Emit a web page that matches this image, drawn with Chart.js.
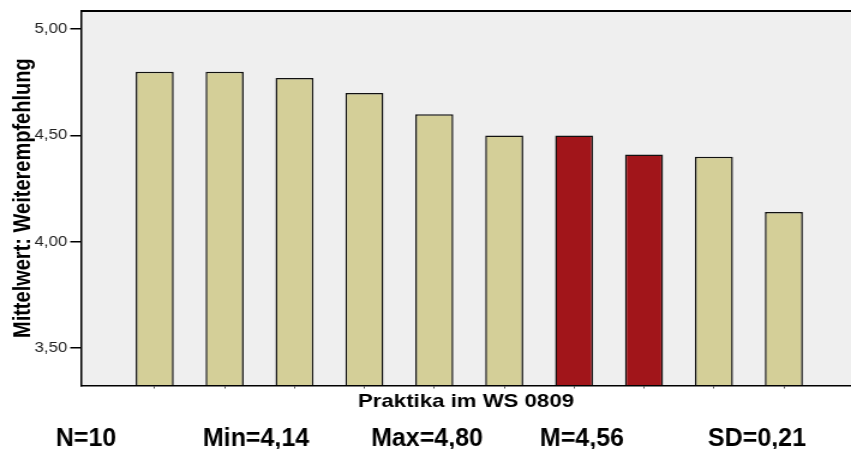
<!DOCTYPE html>
<html>
<head>
<meta charset="utf-8">
<script src="https://cdn.jsdelivr.net/npm/chart.js@4/dist/chart.umd.min.js"></script>
<style>
html, body { margin: 0; padding: 0; background: #fff; }
</style>
</head>
<body>
<!-- the original picture is horizontally stretched, so draw narrow and let css widen it -->
<canvas id="chart" width="709" height="449" style="width:851px;height:449px"></canvas>
<script>
const praktika = ['Praktikum 1', 'Praktikum 2', 'Praktikum 3', 'Praktikum 4', 'Praktikum 5',
                  'Praktikum 6', 'Praktikum 7', 'Praktikum 8', 'Praktikum 9', 'Praktikum 10'];
const weiterempfehlung = [4.80, 4.80, 4.77, 4.70, 4.60, 4.50, 4.50, 4.41, 4.40, 4.14];
const markiert = [6, 7];
const yTicks = [3.50, 4.00, 4.50, 5.00];
const statistik = ['N=10', 'Min=4,14', 'Max=4,80', 'M=4,56', 'SD=0,21'];

const STRETCH = 851 / 709;
const FONT = '"Liberation Sans", Arial, sans-serif';

const frame = {
    id: 'frame',
    beforeDraw(chart) {
        const {ctx, chartArea: a} = chart;
        ctx.save();
        ctx.fillStyle = '#efefef';
        ctx.fillRect(a.left, a.top, a.right - a.left, a.bottom - a.top);
        ctx.restore();
    },
    afterDraw(chart) {
        const {ctx, chartArea: a} = chart;
        ctx.save();
        ctx.strokeStyle = '#000';
        ctx.lineWidth = 2;
        ctx.beginPath();
        ctx.moveTo(a.left, a.top);
        ctx.lineTo(a.right, a.top);
        ctx.stroke();

        // stats row is not stretched in the reference
        ctx.scale(1 / STRETCH, 1);
        ctx.fillStyle = '#000';
        ctx.font = 'bold 25px ' + FONT;
        ctx.textAlign = 'center';
        ctx.textBaseline = 'alphabetic';
        const xs = [86, 256, 427, 582, 757];
        statistik.forEach((t, i) => ctx.fillText(t, xs[i], 446));
        ctx.restore();
    }
};

(function () {
    new Chart(document.getElementById('chart'), {
        type: 'bar',
        data: {
            labels: praktika,
            datasets: [{
                data: weiterempfehlung.map((v, i) => ({x: i, y: v})),
                backgroundColor: weiterempfehlung.map((v, i) => markiert.includes(i) ? '#a1151a' : '#d4cf98'),
                borderColor: '#111',
                borderWidth: 1.5,
                categoryPercentage: 1,
                barPercentage: 0.544,
                clip: 0
            }]
        },
        options: {
            responsive: false,
            animation: false,
            layout: {padding: {top: 10, left: 0, right: 0, bottom: 0}},
            plugins: {
                legend: {display: false},
                tooltip: {enabled: false}
            },
            scales: {
                x: {
                    type: 'linear',
                    min: -1.054,
                    max: 9.961,
                    bounds: 'data',
                    offset: false,
                    afterBuildTicks: s => { s.ticks = praktika.map((p, i) => ({value: i})); },
                    afterFit: s => { s.height = 63.5; },
                    ticks: {display: false},
                    grid: {offset: false, drawOnChartArea: false, drawTicks: true, tickLength: 3, color: '#555', lineWidth: 1},
                    border: {display: true, color: '#000', width: 1.5, z: 1},
                    title: {
                        display: true,
                        text: 'Praktika im WS 0809',
                        color: '#000',
                        font: {family: FONT, size: 18.5, weight: 'bold'},
                        padding: {top: 0, bottom: 35.9}
                    }
                },
                y: {
                    min: 3.323,
                    max: 5.086,
                    bounds: 'data',
                    afterBuildTicks: s => { s.ticks = yTicks.map(v => ({value: v})); },
                    afterFit: s => { s.width = 67.5; },
                    ticks: {
                        callback: v => v.toFixed(2).replace('.', ','),
                        color: '#222',
                        font: {family: FONT, size: 14},
                        padding: 2.5
                    },
                    grid: {drawOnChartArea: false, drawTicks: true, tickLength: 9, color: '#000', lineWidth: 1.5},
                    border: {display: true, color: '#000', width: 1.5, z: 1},
                    title: {
                        display: true,
                        text: 'Mittelwert: Weiterempfehlung',
                        color: '#000',
                        font: {family: FONT, size: 20, weight: 'bold'},
                        padding: {top: 7, bottom: 0}
                    }
                }
            }
        },
        plugins: [frame]
    });
})();
</script>
</body>
</html>
